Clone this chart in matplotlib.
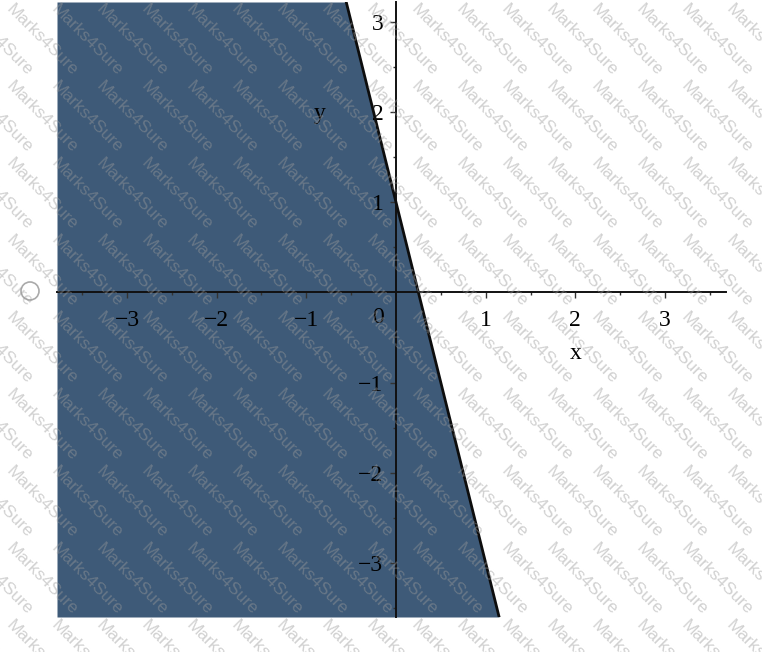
import numpy as np
import matplotlib.pyplot as plt
from matplotlib.patches import Circle

# boundary line y = slope*x + intercept, region below/left is shaded
slope = -4.0
intercept = 1.0
x_range = (-3.78, 3.68)
y_range = (-3.6, 3.22)
x_ticks = [-3, -2, -1, 1, 2, 3]
y_ticks = [-3, -2, -1, 1, 2, 3]
watermark = 'Marks4Sure'

fill_color = '#3e5a78'
serif = ['Liberation Serif', 'DejaVu Serif']

fig = plt.figure(figsize=(7.62, 6.52), dpi=100)
ax = fig.add_axes([57 / 762, 35 / 652, (726 - 57) / 762, (617 - 2) / 652])
ax.set_xlim(*x_range)
ax.set_ylim(*y_range)
ax.patch.set_alpha(0)

# shaded half-plane
yy = np.array(y_range)
xx = (yy - intercept) / slope
ax.fill_betweenx(yy, x_range[0], xx, color=fill_color, lw=0, zorder=1)
ax.plot(xx, yy, color='#0d0d0d', lw=2, zorder=3)

# axes through the origin
for side in ['top', 'right']:
    ax.spines[side].set_visible(False)
ax.spines['left'].set_position(('data', 0))
ax.spines['bottom'].set_position(('data', 0))
for side in ['left', 'bottom']:
    ax.spines[side].set_linewidth(1.4)
    ax.spines[side].set_color('#111111')
    ax.spines[side].set_zorder(4)

ax.set_xticks(x_ticks)
ax.set_yticks(y_ticks)
ax.set_xticklabels([str(t).replace('-', '\u2212') for t in x_ticks],
                   family=serif, fontsize=17)
ax.set_yticklabels([str(t).replace('-', '\u2212') for t in y_ticks],
                   family=serif, fontsize=17)
ax.set_xticks(np.arange(-3.5, 3.6, 1.0), minor=True)
ax.set_yticks(np.arange(-3.5, 3.1, 1.0), minor=True)
ax.tick_params(axis='x', which='major', direction='out', length=4, width=1, pad=9, color='#333333')
ax.tick_params(axis='y', which='major', direction='out', length=4, width=1, pad=5, color='#333333')
ax.tick_params(which='minor', direction='out', length=2.5, width=1, color='#333333')

ax.text(-0.2, -0.28, '0', family=serif, fontsize=17, ha='center', va='center', zorder=5)
ax.text(2.0, -0.68, 'x', family=serif, fontsize=17, ha='center', va='center', zorder=5)
ax.text(-0.85, 1.98, 'y', family=serif, fontsize=17, ha='center', va='center', zorder=5)

# radio button circle on the left
fig.patches.append(Circle((0.30, (652 - 291) / 100), 0.09, transform=fig.dpi_scale_trans,
                          fill=False, edgecolor='#aaaaaa', lw=1.2))

# watermark grid
for px in np.arange(582 - 45 * 14, 820, 45):
    for py in np.arange(425 - 77 * 6, 720, 77):
        fig.text(px / 762, 1 - py / 652, watermark, rotation=-45, ha='center', va='center',
                 fontsize=12.5, family=['Liberation Sans', 'DejaVu Sans'],
                 color='#9a9a9a', alpha=0.45, zorder=10)

fig.savefig('out.png', dpi=100)
